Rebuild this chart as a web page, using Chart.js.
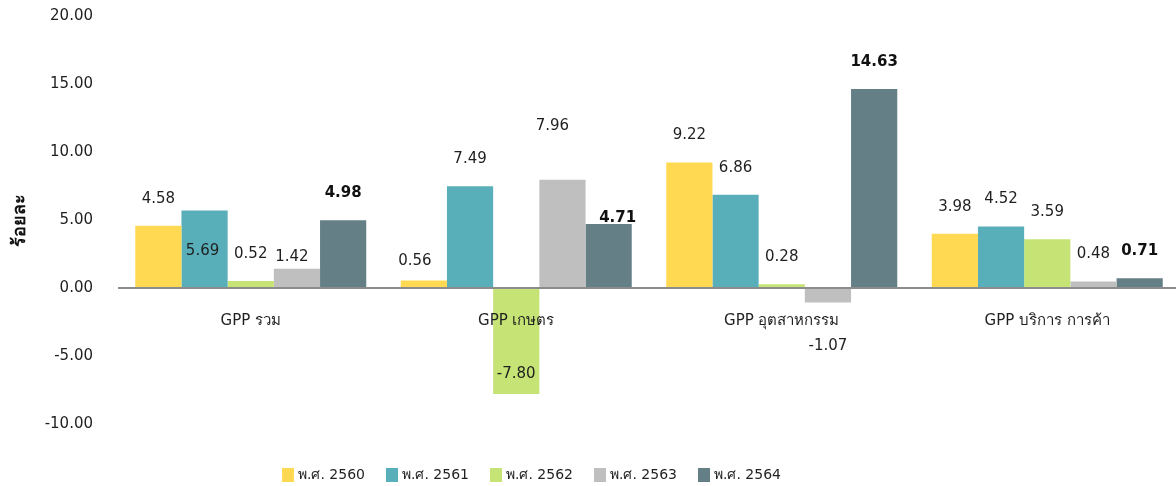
<!DOCTYPE html>
<html>
<head>
<meta charset="utf-8">
<script src="https://cdn.jsdelivr.net/npm/chart.js@4.4.1/dist/chart.umd.min.js"></script>
<style>
html,body{margin:0;padding:0;overflow:hidden;background:#fff;}
#wrap{width:1180px;height:486px;}
</style>
</head>
<body>
<div id="wrap"><canvas id="c" width="1180" height="486"></canvas></div>
<script>
const categories = ['GPP รวม', 'GPP เกษตร', 'GPP อุตสาหกรรม', 'GPP บริการ การค้า'];
const seriesNames = ['พ.ศ. 2560', 'พ.ศ. 2561', 'พ.ศ. 2562', 'พ.ศ. 2563', 'พ.ศ. 2564'];
const v2560 = [4.58, 0.56, 9.22, 3.98];
const v2561 = [5.69, 7.49, 6.86, 4.52];
const v2562 = [0.52, -7.80, 0.28, 3.59];
const v2563 = [1.42, 7.96, -1.07, 0.48];
const v2564 = [4.98, 4.71, 14.63, 0.71];
const yTickValues = [-10, -5, 0, 5, 10, 15, 20];
const yTitle = 'ร้อยละ';

const seriesValues = [v2560, v2561, v2562, v2563, v2564];
const colors = ['#FFD951', '#59AFB9', '#C6E475', '#BFBFBF', '#647F86'];
const boldSeries = [false, false, false, false, true];
// label nudges [dx, dy] relative to the default spot (27px beyond the bar end), per series / category
const labelNudge = [
  [[0,0],[-9,8],[0,0],[0,0]],
  [[-2,67],[0,0],[0,0],[0,0]],
  [[0,0],[0,-47],[0,0],[0,0]],
  [[-5,15],[-10,-27],[0,17],[0,0]],
  [[0,0],[9,21],[0,0],[0,0]]
];

const FONT = "'DejaVu Sans', 'Noto Sans', sans-serif";
const TXT = '#1f1f1f';

const valueLabels = {
  id: 'valueLabels',
  afterDatasetsDraw(chart) {
    const ctx = chart.ctx;
    ctx.save();
    ctx.textAlign = 'center';
    ctx.textBaseline = 'middle';
    chart.data.datasets.forEach((ds, di) => {
      const meta = chart.getDatasetMeta(di);
      ctx.font = (boldSeries[di] ? 'bold ' : '') + '15px ' + FONT;
      ctx.fillStyle = boldSeries[di] ? '#111' : TXT;
      meta.data.forEach((el, i) => {
        const v = ds.data[i];
        const n = labelNudge[di][i];
        const y = v >= 0 ? el.y - 27 : el.y + 27;
        ctx.fillText(v.toFixed(2), el.x + n[0], y + n[1]);
      });
    });
    ctx.restore();
  }
};

const customLegend = {
  id: 'customLegend',
  afterDraw(chart) {
    const ctx = chart.ctx;
    ctx.save();
    ctx.font = '14px ' + FONT;
    ctx.textBaseline = 'middle';
    ctx.textAlign = 'left';
    const cy = 475;
    let x = 282;
    seriesNames.forEach((name, i) => {
      ctx.fillStyle = colors[i];
      ctx.fillRect(x, cy - 7, 12, 14);
      ctx.fillStyle = TXT;
      ctx.fillText(name, x + 16, cy);
      x += 104;
    });
    ctx.restore();
  }
};

new Chart(document.getElementById('c'), {
  type: 'bar',
  data: {
    labels: categories,
    datasets: seriesNames.map((name, i) => ({
      label: name,
      data: seriesValues[i],
      backgroundColor: colors[i],
      borderWidth: 0,
      categoryPercentage: 0.87,
      barPercentage: 1.0
    }))
  },
  options: {
    responsive: false,
    animation: false,
    layout: { padding: { top: 0, right: 0, bottom: 62, left: 0 } },
    plugins: {
      tooltip: { enabled: false },
      legend: { display: false }
    },
    scales: {
      x: {
        position: { y: 0 },
        grid: { display: false, drawTicks: false },
        border: { display: false },
        ticks: { z: 1, color: TXT, padding: 24, font: { family: FONT, size: 15 } }
      },
      y: {
        min: -10,
        max: 20,
        afterFit(scale) { scale.width = 118; scale.paddingTop = 16; scale.paddingBottom = 0; },
        afterBuildTicks(scale) { scale.ticks = yTickValues.map(v => ({ value: v })); },
        grid: {
          drawTicks: false,
          lineWidth: (c) => (c.tick && c.tick.value === 0 ? 2 : 0),
          color: (c) => (c.tick && c.tick.value === 0 ? '#8C8C8C' : 'rgba(0,0,0,0)')
        },
        border: { display: false },
        ticks: {
          color: TXT,
          padding: 25,
          font: { family: FONT, size: 15 },
          callback: (v) => Number(v).toFixed(2)
        },
        title: {
          display: true,
          text: yTitle,
          color: '#111',
          padding: { top: 10, bottom: 0 },
          font: { family: FONT, size: 18, weight: 'bold' }
        }
      }
    }
  },
  plugins: [valueLabels, customLegend]
});
</script>
</body>
</html>
